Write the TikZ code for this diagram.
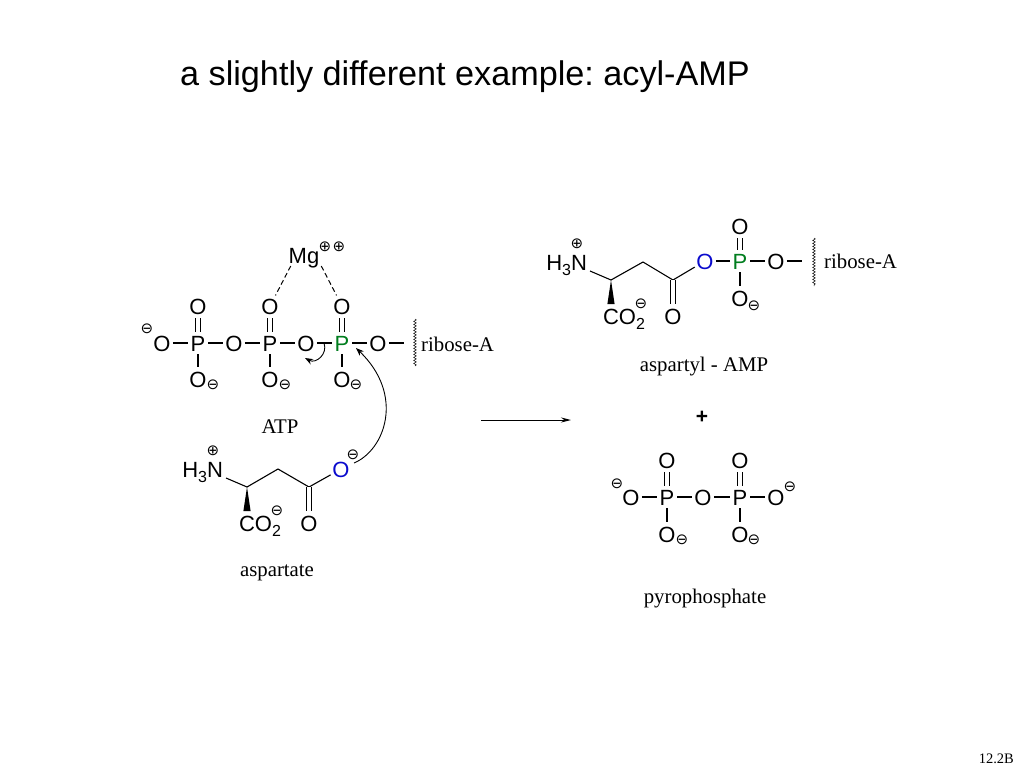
\documentclass[tikz,border=0pt]{standalone}
\usepackage{fontspec}
\setmainfont{Liberation Serif}
\setsansfont{Liberation Sans}
\newfontfamily\chgfont{DejaVu Sans}
\usetikzlibrary{arrows.meta,decorations.pathmorphing}
\definecolor{atomblue}{RGB}{10,10,205}
\definecolor{atomgreen}{RGB}{0,125,30}
\newcommand{\subtwo}{\raisebox{-5pt}{\fontsize{16}{16}\selectfont 2}}
\newcommand{\subthree}{\raisebox{-5pt}{\fontsize{16}{16}\selectfont 3}}
\tikzset{
  atom/.style={circle,inner sep=0pt,minimum size=20pt,font=\sffamily\fontsize{22}{24}\selectfont,text height=16pt,text depth=0pt},
  group/.style={rectangle,inner sep=0pt,outer sep=0pt,font=\sffamily\fontsize{22}{24}\selectfont,text height=16pt,text depth=0pt},
  caption/.style={inner sep=0pt,font=\rmfamily\fontsize{20.8}{24}\selectfont},
  chg/.style={inner sep=0pt,font=\chgfont\fontsize{15}{15}\selectfont},
  bond/.style={line width=1.1pt,black,shorten >=-1pt,shorten <=-1pt},
  vbond/.style={line width=1.1pt,black},
  dbl/.style={line width=1pt,double,double distance=3.6pt,black},
  hbond/.style={line width=1pt,dash pattern=on 5pt off 3pt},
  wavy/.style={line width=.5pt,decorate,decoration={snake,segment length=3pt,amplitude=1.3pt}},
  curly/.style={line width=.9pt,-{Stealth[length=8pt,width=6pt]}},
  wedge/.style={fill=black,draw=none}
}
\begin{document}
\begin{tikzpicture}[x=1pt,y=-1pt]
\useasboundingbox (0,0) rectangle (1024,768);
\node[anchor=west,inner sep=0pt,font=\sffamily\fontsize{34.2}{38}\selectfont\frenchspacing] (title) at (180,77) {a slightly different example: acyl-AMP};
\node[inner sep=0pt,anchor=east,font=\rmfamily\fontsize{14.5}{16}\selectfont] (page) at (1014,759) {12.2B};

% ATP
\node[atom] (a1) at (162,343) {O};
\node[atom] (p1) at (198,343) {P};
\node[atom] (a2) at (234,343) {O};
\node[atom] (p2) at (270,343) {P};
\node[atom] (a3) at (306,343) {O};
\node[atom,text=atomgreen] (p3) at (342,343) {P};
\node[atom] (a4) at (378,343) {O};
\node[atom] (t1) at (198,306) {O};
\node[atom] (t2) at (270,306) {O};
\node[atom] (t3) at (342,306) {O};
\node[atom] (b1) at (198,379) {O};
\node[atom] (b2) at (270,379) {O};
\node[atom] (b3) at (342,379) {O};
\node[group,minimum width=28pt,minimum height=22pt] (mg) at (304,255) {Mg};
\node[chg] (c1) at (147,329) {⊖};
\node[chg] (c2) at (213,385) {⊖};
\node[chg] (c3) at (285,385) {⊖};
\node[chg] (c4) at (356,385) {⊖};
\node[chg] (c5) at (325,247) {⊕};
\node[chg] (c6) at (339,247) {⊕};
\coordinate (a4end) at (403,343);
\coordinate (w1a) at (415,319);
\coordinate (w1b) at (415,366);
\draw[bond] (a1)--(p1); \draw[bond] (p1)--(a2); \draw[bond] (a2)--(p2);
\draw[bond] (p2)--(a3); \draw[bond] (a3)--(p3); \draw[bond] (p3)--(a4);
\draw[bond] (a4)--(a4end);
\draw[dbl] (p1)--(t1); \draw[dbl] (p2)--(t2); \draw[dbl] (p3)--(t3);
\draw[vbond] (p1)--(b1); \draw[vbond] (p2)--(b2); \draw[vbond] (p3)--(b3);
\draw[hbond] ([xshift=2pt]mg.south west)--(t2);
\draw[hbond] ([xshift=2pt]mg.south east)--(t3);
\draw[wavy] (w1a)--(w1b);
\node[caption,anchor=west] (r1) at (421,344) {ribose-A};
\node[caption] (atplab) at (280,427) {ATP};

% aspartate
\node[group,anchor=east] (n1) at (223,469) {H\subthree N};
\coordinate (ca1) at (247,487);
\coordinate (ch1) at (278,469);
\node[circle,inner sep=0pt,minimum size=0pt] (cc1) at (309,487) {};
\node[atom,text=atomblue] (o1) at (341,469) {O};
\node[atom] (o2) at (309,523) {O};
\node[group,anchor=west] (co1) at (239,523) {CO\subtwo};
\coordinate (we1) at (247,511);
\node[chg] (c7) at (213,451) {⊕};
\node[chg] (c8) at (277,511) {⊖};
\node[chg] (c9) at (353,455) {⊖};
\draw[vbond] ([xshift=3pt,yshift=-1pt]n1.south east)--(ca1)--(ch1)--(cc1.center)--(o1);
\draw[dbl] (cc1.center)--(o2);
\fill[wedge] (ca1)--([xshift=-3.6pt]we1)--([xshift=3.6pt]we1)--cycle;
\node[caption] (asplab) at (277,573) {aspartate};

% curved arrows
\coordinate (cs1) at (354,463);
\coordinate (ce1) at (356,348);
\draw[curly] (cs1) .. controls (385,450) and (405,395) .. (ce1);
\coordinate (cs2) at (324,343);
\coordinate (ce2) at (305,358);
\draw[curly] (cs2) .. controls (328,354) and (316,364) .. (ce2);

% reaction arrow
\coordinate (ra) at (481,420);
\coordinate (rb) at (571,420);
\draw[line width=1pt,-{Stealth[length=10pt,width=5pt]}] (ra)--(rb);

% aspartyl-AMP
\node[group,anchor=east] (n2) at (587,262) {H\subthree N};
\coordinate (ca2) at (611,280);
\coordinate (ch2) at (643,262);
\node[circle,inner sep=0pt,minimum size=0pt] (cc2) at (673,280) {};
\node[atom,text=atomblue] (o3) at (705,261) {O};
\node[atom,text=atomgreen] (p4) at (740,261) {P};
\node[atom] (o4) at (776,261) {O};
\node[atom] (o5) at (740,226) {O};
\node[atom] (o6) at (740,298) {O};
\node[atom] (o7) at (673,316) {O};
\node[group,anchor=west] (co2) at (603,316) {CO\subtwo};
\coordinate (we2) at (611,304);
\coordinate (o4end) at (801,261);
\coordinate (w2a) at (814,238);
\coordinate (w2b) at (814,286);
\node[chg] (c10) at (577,244) {⊕};
\node[chg] (c11) at (641,304) {⊖};
\node[chg] (c12) at (754,306) {⊖};
\draw[vbond] ([xshift=3pt,yshift=-1pt]n2.south east)--(ca2)--(ch2)--(cc2.center)--(o3);
\draw[dbl] (cc2.center)--(o7);
\fill[wedge] (ca2)--([xshift=-3.6pt]we2)--([xshift=3.6pt]we2)--cycle;
\draw[bond] (o3)--(p4); \draw[bond] (p4)--(o4); \draw[bond] (o4)--(o4end);
\draw[dbl] (p4)--(o5); \draw[vbond] (p4)--(o6);
\draw[wavy] (w2a)--(w2b);
\node[caption,anchor=west] (r2) at (824,261) {ribose-A};
\node[caption] (amplab) at (704,367) {aspartyl - AMP};

\node[inner sep=0pt,font=\sffamily\bfseries\fontsize{21}{24}\selectfont] (plus) at (702,417) {+};

% pyrophosphate
\node[atom] (q1) at (631,497) {O};
\node[atom] (q2) at (667,497) {P};
\node[atom] (q3) at (703,497) {O};
\node[atom] (q4) at (740,497) {P};
\node[atom] (q5) at (776,497) {O};
\node[atom] (q6) at (667,460) {O};
\node[atom] (q7) at (740,460) {O};
\node[atom] (q8) at (667,534) {O};
\node[atom] (q9) at (740,534) {O};
\node[chg] (c13) at (617,484) {⊖};
\node[chg] (c14) at (790,487) {⊖};
\node[chg] (c15) at (682,540) {⊖};
\node[chg] (c16) at (754,540) {⊖};
\draw[bond] (q1)--(q2); \draw[bond] (q2)--(q3); \draw[bond] (q3)--(q4); \draw[bond] (q4)--(q5);
\draw[dbl] (q2)--(q6); \draw[dbl] (q4)--(q7);
\draw[vbond] (q2)--(q8); \draw[vbond] (q4)--(q9);
\node[caption] (pplab) at (705,599) {pyrophosphate};
\end{tikzpicture}
\end{document}
